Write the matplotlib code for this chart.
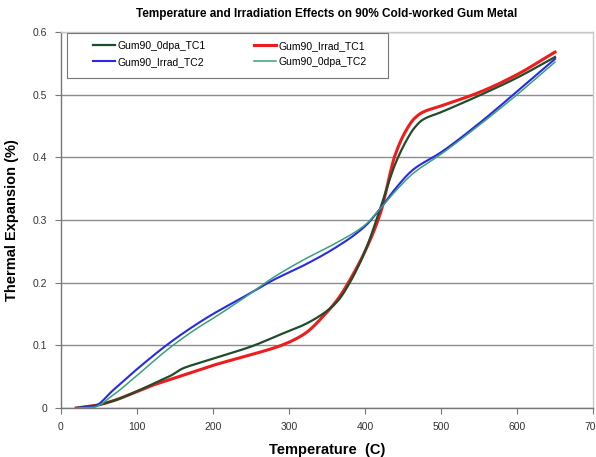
import numpy as np
import matplotlib
matplotlib.use("Agg")
import matplotlib.pyplot as plt
from matplotlib.patches import Rectangle

# Data
temp_tc1 = [20, 45, 70, 95, 120, 145, 160, 185, 200, 250, 290, 320, 350, 365, 380, 400, 420, 440, 455, 465, 476, 500, 551, 600, 650]
gum90_0dpa_tc1 = [0.0, 0.004, 0.012, 0.024, 0.038, 0.052, 0.063, 0.073, 0.079, 0.098, 0.118, 0.133, 0.155, 0.172, 0.200, 0.250, 0.318, 0.390, 0.428, 0.447, 0.460, 0.472, 0.499, 0.527, 0.560]
gum90_irrad_tc1 = [0.0, 0.004, 0.012, 0.024, 0.036, 0.046, 0.052, 0.062, 0.068, 0.085, 0.100, 0.118, 0.153, 0.175, 0.204, 0.250, 0.310, 0.405, 0.445, 0.462, 0.472, 0.482, 0.504, 0.532, 0.568]

temp_tc2 = [20, 42, 70, 100, 143, 180, 200, 240, 279, 320, 360, 400, 420, 440, 463, 500, 551, 600, 650]
gum90_irrad_tc2 = [0.0, 0.002, 0.030, 0.062, 0.104, 0.135, 0.150, 0.177, 0.204, 0.228, 0.255, 0.290, 0.318, 0.350, 0.380, 0.408, 0.455, 0.505, 0.557]
gum90_0dpa_tc2 = [0.0, 0.001, 0.022, 0.052, 0.096, 0.128, 0.143, 0.175, 0.208, 0.237, 0.262, 0.292, 0.318, 0.346, 0.374, 0.405, 0.452, 0.500, 0.552]

title = "Temperature and Irradiation Effects on 90% Cold-worked Gum Metal"
xlabel = "Temperature  (C)"
ylabel = "Thermal Expansion (%)"
xticks = [0, 100, 200, 300, 400, 500, 600, 700]
yticks = [0, 0.1, 0.2, 0.3, 0.4, 0.5, 0.6]

plt.rcParams['font.family'] = ['Liberation Sans', 'DejaVu Sans']

fig = plt.figure(figsize=(5.96, 4.57), dpi=100)
ax = fig.add_axes([61/596, 49/457, 532/596, 376/457])

def smooth(x, y, n=300):
    x = np.asarray(x, float); y = np.asarray(y, float)
    h = np.diff(x); d = np.diff(y) / h
    m = np.zeros_like(y)
    for i in range(1, len(y) - 1):
        if d[i-1] * d[i] <= 0:
            m[i] = 0
        else:
            w1 = 2*h[i] + h[i-1]; w2 = h[i] + 2*h[i-1]
            m[i] = (w1 + w2) / (w1/d[i-1] + w2/d[i])
    m[0] = d[0]; m[-1] = d[-1]
    xs = np.linspace(x[0], x[-1], n)
    idx = np.clip(np.searchsorted(x, xs) - 1, 0, len(x) - 2)
    t = (xs - x[idx]) / h[idx]
    h00 = 2*t**3 - 3*t**2 + 1; h10 = t**3 - 2*t**2 + t
    h01 = -2*t**3 + 3*t**2; h11 = t**3 - t**2
    ys = h00*y[idx] + h10*h[idx]*m[idx] + h01*y[idx+1] + h11*h[idx]*m[idx+1]
    return xs, ys

series = [
    ("Gum90_0dpa_TC1", temp_tc1, gum90_0dpa_tc1, "#1f4d2b", 1.6, 3),
    ("Gum90_Irrad_TC1", temp_tc1, gum90_irrad_tc1, "#ee1c1c", 2.2, 2),
    ("Gum90_Irrad_TC2", temp_tc2, gum90_irrad_tc2, "#2a2ae0", 1.5, 3),
    ("Gum90_0dpa_TC2", temp_tc2, gum90_0dpa_tc2, "#3aa07a", 1.1, 4),
]
handles = {}
for name, x, y, c, lw, z in series:
    xs, ys = smooth(x, y)
    ln, = ax.plot(xs, ys, color=c, lw=lw, zorder=z, label=name)
    handles[name] = ln

ax.set_xlim(0, 700)
ax.set_ylim(0, 0.6)
ax.set_xticks(xticks)
ax.set_yticks(yticks)
ax.set_xticklabels([str(v) for v in xticks], fontsize=7.5, color="#333333")
ax.set_yticklabels(["0", "0.1", "0.2", "0.3", "0.4", "0.5", "0.6"], fontsize=7.5, color="#333333")
ax.tick_params(direction="out", length=4, width=0.8, color="#777777", pad=6)
ax.yaxis.grid(True, color="#8c8c8c", lw=1.0)
ax.set_axisbelow(True)
for s in ["left", "bottom"]:
    ax.spines[s].set_color("#777777")
    ax.spines[s].set_linewidth(1.0)
for s in ["top", "right"]:
    ax.spines[s].set_color("#c8c8c8")
    ax.spines[s].set_linewidth(1.0)

ax.set_title(title, fontsize=8.5, fontweight="bold", pad=11)
ax.set_xlabel(xlabel, fontsize=10.5, fontweight="bold", labelpad=8)
ax.set_ylabel(ylabel, fontsize=10.5, fontweight="bold", labelpad=10)

# legend box (Excel-style) drawn separately
box = Rectangle((6/532, 0.878), 321/532, 0.119, transform=ax.transAxes,
                facecolor="white", edgecolor="#777777", lw=0.8, zorder=5)
ax.add_patch(box)

# column-wise fill: column 1 then column 2
order = ["Gum90_0dpa_TC1", "Gum90_Irrad_TC2", "Gum90_Irrad_TC1", "Gum90_0dpa_TC2"]
leg = ax.legend([handles[k] for k in order], order, ncol=2, loc="upper left",
                bbox_to_anchor=(32/532, 0.977), fontsize=7.5, frameon=False,
                handlelength=2.1, handletextpad=0.25, borderpad=0.0, borderaxespad=0.0,
                columnspacing=4.6, labelspacing=0.62)
leg.set_zorder(6)

fig.savefig("out.png", dpi=100)
